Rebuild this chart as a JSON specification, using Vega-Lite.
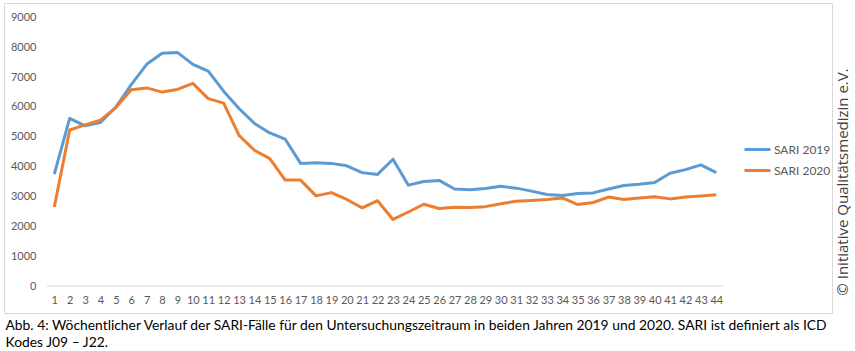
{
  "$schema": "https://vega.github.io/schema/vega-lite/v6.json",
  "width": 828,
  "height": 310,
  "autosize": {"type": "none"},
  "padding": {"left": 4, "top": 3, "right": 23, "bottom": 38},
  "background": "white",
  "config": {
    "view": {"stroke": "#d9d9d9", "strokeWidth": 1},
    "font": "Lato",
    "axis": {"labelOverlap": false, "labelFlush": false}
  },
  "title": {
    "text": "© Initiative  Qualitätsmedizin e.V.",
    "orient": "right",
    "angle": 270,
    "anchor": "middle",
    "offset": -4,
    "baseline": "middle",
    "dx": -24,
    "fontSize": 15,
    "fontWeight": "normal",
    "font": "Open Sans",
    "color": "#404040"
  },
  "datasets": {
    "sari": [
      {"week": 1, "series": "SARI 2019", "value": 3750},
      {"week": 2, "series": "SARI 2019", "value": 5620},
      {"week": 3, "series": "SARI 2019", "value": 5370},
      {"week": 4, "series": "SARI 2019", "value": 5480},
      {"week": 5, "series": "SARI 2019", "value": 6000},
      {"week": 6, "series": "SARI 2019", "value": 6750},
      {"week": 7, "series": "SARI 2019", "value": 7430},
      {"week": 8, "series": "SARI 2019", "value": 7800},
      {"week": 9, "series": "SARI 2019", "value": 7830},
      {"week": 10, "series": "SARI 2019", "value": 7430},
      {"week": 11, "series": "SARI 2019", "value": 7200},
      {"week": 12, "series": "SARI 2019", "value": 6530},
      {"week": 13, "series": "SARI 2019", "value": 5950},
      {"week": 14, "series": "SARI 2019", "value": 5450},
      {"week": 15, "series": "SARI 2019", "value": 5130},
      {"week": 16, "series": "SARI 2019", "value": 4920},
      {"week": 17, "series": "SARI 2019", "value": 4110},
      {"week": 18, "series": "SARI 2019", "value": 4130},
      {"week": 19, "series": "SARI 2019", "value": 4110},
      {"week": 20, "series": "SARI 2019", "value": 4030},
      {"week": 21, "series": "SARI 2019", "value": 3800},
      {"week": 22, "series": "SARI 2019", "value": 3740},
      {"week": 23, "series": "SARI 2019", "value": 4250},
      {"week": 24, "series": "SARI 2019", "value": 3380},
      {"week": 25, "series": "SARI 2019", "value": 3500},
      {"week": 26, "series": "SARI 2019", "value": 3540},
      {"week": 27, "series": "SARI 2019", "value": 3250},
      {"week": 28, "series": "SARI 2019", "value": 3230},
      {"week": 29, "series": "SARI 2019", "value": 3270},
      {"week": 30, "series": "SARI 2019", "value": 3340},
      {"week": 31, "series": "SARI 2019", "value": 3280},
      {"week": 32, "series": "SARI 2019", "value": 3180},
      {"week": 33, "series": "SARI 2019", "value": 3070},
      {"week": 34, "series": "SARI 2019", "value": 3030},
      {"week": 35, "series": "SARI 2019", "value": 3100},
      {"week": 36, "series": "SARI 2019", "value": 3120},
      {"week": 37, "series": "SARI 2019", "value": 3250},
      {"week": 38, "series": "SARI 2019", "value": 3370},
      {"week": 39, "series": "SARI 2019", "value": 3410},
      {"week": 40, "series": "SARI 2019", "value": 3470},
      {"week": 41, "series": "SARI 2019", "value": 3780},
      {"week": 42, "series": "SARI 2019", "value": 3900},
      {"week": 43, "series": "SARI 2019", "value": 4060},
      {"week": 44, "series": "SARI 2019", "value": 3800},
      {"week": 1, "series": "SARI 2020", "value": 2650},
      {"week": 2, "series": "SARI 2020", "value": 5230},
      {"week": 3, "series": "SARI 2020", "value": 5400},
      {"week": 4, "series": "SARI 2020", "value": 5560},
      {"week": 5, "series": "SARI 2020", "value": 5980},
      {"week": 6, "series": "SARI 2020", "value": 6580},
      {"week": 7, "series": "SARI 2020", "value": 6640},
      {"week": 8, "series": "SARI 2020", "value": 6500},
      {"week": 9, "series": "SARI 2020", "value": 6590},
      {"week": 10, "series": "SARI 2020", "value": 6790},
      {"week": 11, "series": "SARI 2020", "value": 6280},
      {"week": 12, "series": "SARI 2020", "value": 6130},
      {"week": 13, "series": "SARI 2020", "value": 5050},
      {"week": 14, "series": "SARI 2020", "value": 4550},
      {"week": 15, "series": "SARI 2020", "value": 4270},
      {"week": 16, "series": "SARI 2020", "value": 3550},
      {"week": 17, "series": "SARI 2020", "value": 3550},
      {"week": 18, "series": "SARI 2020", "value": 3020},
      {"week": 19, "series": "SARI 2020", "value": 3130},
      {"week": 20, "series": "SARI 2020", "value": 2900},
      {"week": 21, "series": "SARI 2020", "value": 2620},
      {"week": 22, "series": "SARI 2020", "value": 2860},
      {"week": 23, "series": "SARI 2020", "value": 2230},
      {"week": 24, "series": "SARI 2020", "value": 2480},
      {"week": 25, "series": "SARI 2020", "value": 2740},
      {"week": 26, "series": "SARI 2020", "value": 2600},
      {"week": 27, "series": "SARI 2020", "value": 2640},
      {"week": 28, "series": "SARI 2020", "value": 2630},
      {"week": 29, "series": "SARI 2020", "value": 2660},
      {"week": 30, "series": "SARI 2020", "value": 2760},
      {"week": 31, "series": "SARI 2020", "value": 2840},
      {"week": 32, "series": "SARI 2020", "value": 2870},
      {"week": 33, "series": "SARI 2020", "value": 2900},
      {"week": 34, "series": "SARI 2020", "value": 2950},
      {"week": 35, "series": "SARI 2020", "value": 2730},
      {"week": 36, "series": "SARI 2020", "value": 2800},
      {"week": 37, "series": "SARI 2020", "value": 2980},
      {"week": 38, "series": "SARI 2020", "value": 2900},
      {"week": 39, "series": "SARI 2020", "value": 2950},
      {"week": 40, "series": "SARI 2020", "value": 2990},
      {"week": 41, "series": "SARI 2020", "value": 2920},
      {"week": 42, "series": "SARI 2020", "value": 2980},
      {"week": 43, "series": "SARI 2020", "value": 3020},
      {"week": 44, "series": "SARI 2020", "value": 3060}
    ]
  },
  "layer": [
    {
      "data": {"name": "sari"},
      "mark": {"type": "line", "strokeWidth": 3, "strokeJoin": "round", "strokeCap": "butt"},
      "encoding": {
        "x": {
          "field": "week",
          "type": "quantitative",
          "scale": {"domain": [-2.267, 51.517], "nice": false, "zero": false},
          "axis": {
            "values": [1,2,3,4,5,6,7,8,9,10,11,12,13,14,15,16,17,18,19,20,21,22,23,24,25,26,27,28,29,30,31,32,33,34,35,36,37,38,39,40,41,42,43,44],
            "tickCount": 100,
            "format": "d",
            "ticks": false,
            "domain": false,
            "grid": false,
            "offset": -27,
            "labelPadding": 8,
            "labelFontSize": 11,
            "labelColor": "#595959",
            "labelFlush": false,
            "labelOverlap": false,
            "title": ["Abb. 4: Wöchentlicher Verlauf der SARI-Fälle für den Untersuchungszeitraum in beiden Jahren 2019 und 2020. SARI ist definiert als ICD", "Kodes J09 – J22."],
            "titleAnchor": "start",
            "titleAlign": "left",
            "titleBaseline": "alphabetic",
            "titleX": 1,
            "titleY": 43,
            "titleFont": "Lato",
            "titleFontSize": 13.85,
            "titleFontWeight": "normal",
            "titleColor": "#000000",
            "titleLineHeight": 17
          }
        },
        "y": {
          "field": "value",
          "type": "quantitative",
          "scale": {"domain": [-905, 9486], "nice": false, "zero": false},
          "axis": {
            "values": [0,1000,2000,3000,4000,5000,6000,7000,8000,9000],
            "tickCount": 50,
            "format": "d",
            "ticks": false,
            "domain": false,
            "grid": false,
            "offset": -43,
            "labelPadding": 11,
            "labelFontSize": 11,
            "labelColor": "#595959",
            "labelOverlap": false,
            "title": null
          }
        },
        "color": {
          "field": "series",
          "type": "nominal",
          "scale": {"domain": ["SARI 2019", "SARI 2020"], "range": ["#5B9BD5", "#ED7D31"]},
          "legend": {
            "orient": "none",
            "legendX": 739,
            "legendY": 132,
            "title": null,
            "symbolType": "stroke",
            "symbolSize": 676,
            "symbolStrokeWidth": 3,
            "labelFontSize": 12,
            "labelColor": "#595959",
            "labelOffset": 2,
            "rowPadding": -4
          }
        }
      }
    },
    {
      "data": {"values": [{"start": 0.52, "end": 44.45, "base": 0}]},
      "mark": {"type": "rule", "color": "#d9d9d9", "strokeWidth": 1},
      "encoding": {
        "x": {"field": "start", "type": "quantitative"},
        "x2": {"field": "end"},
        "y": {"field": "base", "type": "quantitative"}
      }
    }
  ]
}
